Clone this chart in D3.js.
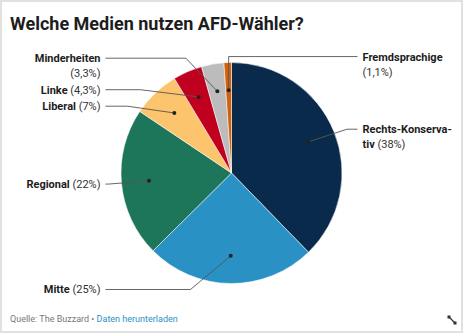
<!DOCTYPE html>
<html>
<head>
<meta charset="utf-8">
<script src="https://cdn.jsdelivr.net/npm/d3@7"></script>
<style>
  html, body { margin: 0; padding: 0; background: #fff; }
  svg { display: block; font-family: Roboto, "Noto Sans", sans-serif; }
  text { white-space: pre; }
</style>
</head>
<body>
<svg id="chart" width="463" height="333"></svg>
<script>
// Media used by AfD voters, share in percent
const categories = ["Rechts-Konservativ", "Mitte", "Regional", "Liberal", "Linke", "Minderheiten", "Fremdsprachige"];
const values = [38, 25, 22, 7, 4.3, 3.3, 1.1];
const colors = ["#0a2a4c", "#2a91c4", "#1d765a", "#fcc46c", "#c0001f", "#bcbcbc", "#d0620f"];
// Labels placed on the right-hand side of the pie
const rightLabels = ["Rechts-Konservativ", "Fremdsprachige"];
// Soft-hyphen break points for long names
const hyphenated = { "Rechts-Konservativ": "Rechts-Konserva\u00ADtiv" };

const W = 463, H = 333;
const cx = 231.5, cy = 173, r = 110.5;
const labelR = 116.5, elbowR = 123.5, dotR = r * 0.75;
const labelGap = 131, maxLabelW = 90, lineH = 15, blockGap = 1.5;

const svg = d3.select("#chart");

// frame
svg.append("rect").attr("x", 1).attr("y", 1).attr("width", W - 2).attr("height", H - 2)
  .attr("fill", "#fff").attr("stroke", "#e1e1e1").attr("stroke-width", 2);

// title
svg.append("text").attr("x", 10).attr("y", 30)
  .attr("font-size", 18).attr("font-weight", 700).attr("fill", "#1d1d1d")
  .text("Welche Medien nutzen AFD-Wähler?");

const de = d3.formatLocale({ decimal: ",", thousands: ".", grouping: [3], currency: ["", " €"] });
const fmt = v => (Number.isInteger(v) ? de.format("d")(v) : de.format(".1f")(v)) + "%";

const data = categories.map((c, i) => ({ name: c, value: values[i], color: colors[i] }));
const pie = d3.pie().sort(null).value(d => d.value);
const arcs = pie(data);
const arc = d3.arc().innerRadius(0).outerRadius(r);

const g = svg.append("g").attr("transform", `translate(${cx},${cy})`);
g.selectAll("path").data(arcs).join("path")
  .attr("d", arc)
  .attr("fill", d => d.data.color)
  .attr("stroke", "#fff").attr("stroke-width", 0.5);

// text measurement
const ctx = document.createElement("canvas").getContext("2d");
function measure(txt, bold) {
  ctx.font = (bold ? "bold " : "") + "11px Roboto";
  return ctx.measureText(txt).width;
}
function lineWidth(atoms) {
  return d3.sum(atoms, (a, i) => measure((i && a.sep === " " ? " " : "") + a.text, a.bold));
}
function wrap(atoms) {
  const lines = [];
  let cur = [];
  atoms.forEach(a => {
    if (cur.length && lineWidth(cur.concat([a])) > maxLabelW) {
      if (a.sep === "\u00AD") cur.push({ text: "-", bold: cur[cur.length - 1].bold, sep: "" });
      lines.push(cur);
      cur = [Object.assign({}, a, { sep: "" })];
    } else {
      cur.push(a);
    }
  });
  if (cur.length) lines.push(cur);
  return lines;
}
function atomsFor(d) {
  const atoms = [];
  const name = hyphenated[d.name] || d.name;
  name.split(" ").forEach((word, wi) => {
    word.split("\u00AD").forEach((syl, si) => {
      atoms.push({ text: syl, bold: true, sep: si ? "\u00AD" : (wi ? " " : "") });
    });
  });
  atoms.push({ text: "(" + fmt(d.value) + ")", bold: false, sep: " " });
  return atoms;
}

// label layout
const labels = arcs.map(a => {
  const mid = (a.startAngle + a.endAngle) / 2;
  const side = rightLabels.includes(a.data.name) ? 1 : -1;
  return {
    a, mid, side,
    dot: [cx + dotR * Math.sin(mid), cy - dotR * Math.cos(mid)],
    y: cy - labelR * Math.cos(mid),
    lines: wrap(atomsFor(a.data))
  };
});
[-1, 1].forEach(side => {
  const group = labels.filter(l => l.side === side).sort((p, q) => p.y - q.y);
  for (let i = 1; i < group.length; i++) {
    const prev = group[i - 1];
    const minY = prev.y + prev.lines.length * lineH + blockGap;
    if (group[i].y < minY) group[i].y = minY;
  }
});

const lg = svg.append("g");
labels.forEach(l => {
  const textX = cx + l.side * labelGap;
  const startX = textX - l.side * 5;
  const dy = l.y - cy;
  let elbowX;
  const dotSide = Math.sign(l.dot[0] - cx);
  if (Math.abs(dy) >= elbowR || dotSide !== l.side) {
    elbowX = l.dot[0];
  } else {
    elbowX = cx + l.side * Math.sqrt(elbowR * elbowR - dy * dy);
  }
  lg.append("path")
    .attr("d", d3.line()([[startX, l.y], [elbowX, l.y], l.dot]))
    .attr("fill", "none").attr("stroke", "#555").attr("stroke-width", 0.9);
  lg.append("circle").attr("cx", l.dot[0]).attr("cy", l.dot[1]).attr("r", 2).attr("fill", "#222");

  const t = lg.append("text")
    .attr("font-size", 11)
    .attr("text-anchor", l.side > 0 ? "start" : "end");
  l.lines.forEach((line, li) => {
    const row = t.append("tspan").attr("x", textX).attr("y", l.y + 4 + li * lineH);
    line.forEach((atom, ai) => {
      row.append("tspan")
        .attr("font-weight", atom.bold ? 700 : 400)
        .attr("fill", atom.bold ? "#1d1d1d" : "#333")
        .text((ai && atom.sep === " " ? " " : "") + atom.text);
    });
  });
});

// footer
const foot = svg.append("text").attr("x", 10).attr("y", 322).attr("font-size", 9);
foot.append("tspan").attr("fill", "#777").text("Quelle: The Buzzard • ");
foot.append("tspan").attr("fill", "#2a91c6").text("Daten herunterladen");

// resize handle
const rh = svg.append("g").attr("fill", "#333").attr("stroke", "#333");
rh.append("line").attr("x1", 449).attr("y1", 317).attr("x2", 455).attr("y2", 323).attr("stroke-width", 1.3);
rh.append("rect").attr("x", 447.5).attr("y", 315.5).attr("width", 3).attr("height", 3).attr("stroke", "none");
rh.append("rect").attr("x", 453.5).attr("y", 321.5).attr("width", 3).attr("height", 3).attr("stroke", "none");
</script>
</body>
</html>
